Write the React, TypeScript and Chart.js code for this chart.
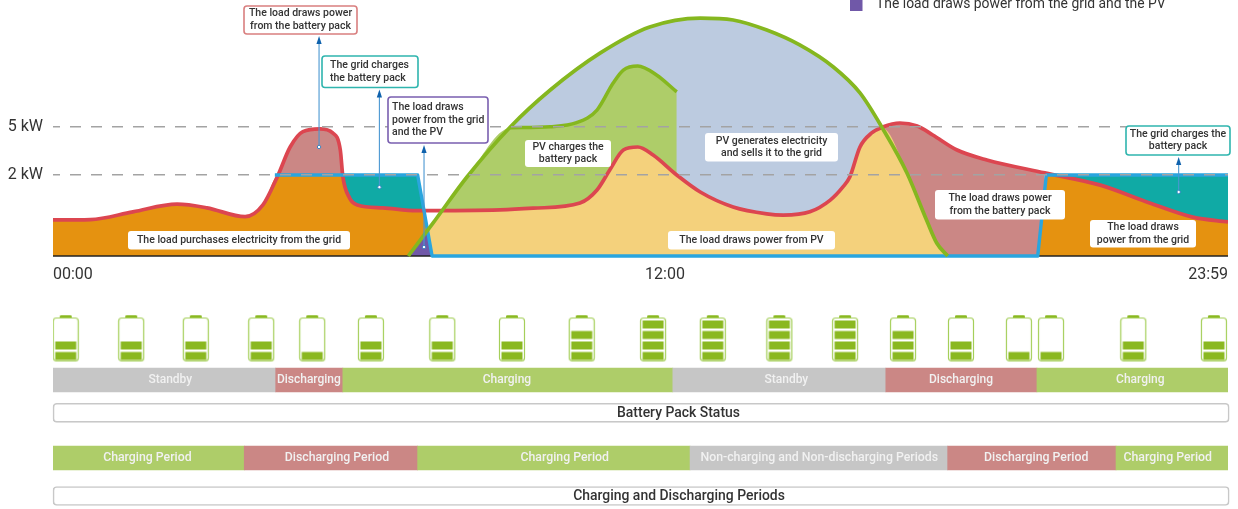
import React, { useEffect, useRef } from "react";
import { Chart, LinearScale, registerables } from "chart.js";

// ---------- Data (x = minutes after midnight, y = kW) ----------
const loadTime = [0, 44, 94, 146, 181, 226, 247, 264, 279, 294, 314, 329, 338, 341, 349, 358, 388, 428, 526, 565, 620, 640, 655, 671, 688, 706, 735, 765, 807, 850, 871, 905, 931, 947, 956, 969, 984, 998, 1020, 1042, 1062, 1093, 1131, 1205, 1276, 1339, 1394, 1439];
const loadKw = [0.89, 0.9, 1.09, 1.28, 1.19, 0.97, 1.26, 1.96, 3.75, 4.71, 4.88, 4.63, 3.56, 1.96, 1.43, 1.26, 1.19, 1.12, 1.14, 1.18, 1.31, 1.63, 2.31, 3.56, 3.75, 3.25, 2.0, 1.58, 1.21, 1.04, 1.01, 1.09, 1.38, 1.7, 1.95, 3.75, 4.63, 5.0, 5.25, 5.06, 4.5, 3.56, 2.94, 2.13, 1.75, 1.31, 0.96, 0.84];
const pvTime = [418, 447, 487, 538, 585, 644, 702, 765, 807, 850, 892, 935, 969, 998, 1029, 1054, 1067, 1081];
const pvKw = [0, 0.81, 1.95, 5.0, 7.31, 9.63, 11.25, 11.81, 11.69, 11.06, 10.13, 8.75, 7.13, 4.9, 2.13, 0.89, 0.32, 0];
const pvChargeTime = [538, 585, 616, 640, 659, 671, 688, 710, 735];
const pvChargeKw = [4.96, 5.02, 5.27, 6.06, 7.75, 8.56, 8.81, 8.25, 7.19];
const gridLimitTime = [261, 429, 446, 1196, 1207, 1439];
const gridLimitKw = [2, 2, 0, 0, 2, 2];

const batteryTime = [15, 92, 168, 245, 305, 374, 458, 540, 622, 706, 781, 866, 950, 1024, 1098, 1172, 1213, 1318, 1421];
const batteryLevel = [2, 2, 2, 2, 1, 2, 2, 2, 3, 4, 4, 4, 4, 3, 2, 1, 1, 2, 2];

const statusNames = ["Standby", "Discharging", "Charging", "Standby", "Discharging", "Charging"];
const statusEdges = [0, 262, 341, 730, 1002, 1195, 1439];
const statusLabelAt = [138, 301, 534, 875, 1098, 1327];
const periodNames = ["Charging Period", "Discharging Period", "Charging Period", "Non-charging and Non-discharging Periods", "Discharging Period", "Charging Period"];
const periodEdges = [0, 225, 429, 752, 1081, 1296, 1439];
const periodLabelAt = [111, 334, 602, 917, 1194, 1362];

const timeTicks = [0, 720, 1439];
const powerTicks = [2, 5];

// ---------- Styles ----------
const FONT = "Roboto, 'Noto Sans', sans-serif";
const C = {
  orange: "#e59210", pink: "#cb8785", teal: "#10aaa5", yellow: "#f4d17c", sky: "#bccbe0",
  lime: "#aecd69", purple: "#7058a8", red: "#dc4650", pv: "#85b71f", limit: "#2aa5de",
  grey: "#c6c6c6", text: "#333333",
};
const statusColor: Record<string, string> = {
  Standby: C.grey, Discharging: C.pink, Charging: C.lime,
  "Charging Period": C.lime, "Discharging Period": C.pink,
  "Non-charging and Non-discharging Periods": C.grey,
};
const ROW = { battery: 338.5, status: 380, statusTitle: 412.8, period: 458, periodTitle: 496 };

// Piecewise linear axis: the schematic's kW and time axes are not to scale.
class PiecewiseScale extends LinearScale {
  static id = "piecewise";
  static defaults = {};
  getPixelForValue(value: number) {
    const knots: number[][] = (this.options as any).knots;
    let i = 0;
    while (i < knots.length - 2 && value > knots[i + 1][0]) i++;
    const [v0, d0] = knots[i];
    const [v1, d1] = knots[i + 1];
    return this.getPixelForDecimal(d0 + ((value - v0) / (v1 - v0)) * (d1 - d0));
  }
  // Tick labels may overhang the plot: they must not shrink it.
  getPadding() {
    return { left: 0, right: 0, top: 0, bottom: 0 };
  }
}

const zip = (t: number[], v: number[]) => t.map((x, i) => ({ x, y: v[i] }));
const load = zip(loadTime, loadKw);
const pv = zip(pvTime, pvKw);
const pvCharge = zip(pvChargeTime, pvChargeKw);
const between = (s: { x: number; y: number }[], a: number, b: number) => s.filter((p) => p.x >= a && p.x <= b);

function region(data: any[], color: string, smooth = true) {
  return {
    type: "line", data, xAxisID: "x", yAxisID: "y", pointRadius: 0, borderWidth: 0, borderColor: "transparent",
    backgroundColor: color, fill: { target: "origin" },
    ...(smooth ? { cubicInterpolationMode: "monotone" } : { tension: 0 }),
  };
}
function stroke(data: any[], color: string, width: number, smooth = true) {
  return {
    type: "line", data, xAxisID: "x", yAxisID: "y", pointRadius: 0, borderWidth: width, borderColor: color, fill: false,
    borderCapStyle: "butt", borderJoinStyle: "round",
    ...(smooth ? { cubicInterpolationMode: "monotone" } : { tension: 0 }),
  };
}
function laneBars(names: string[], edges: number[], row: number) {
  return {
    type: "bar", indexAxis: "y", xAxisID: "x", yAxisID: "lanes", grouped: false, barThickness: 24, borderWidth: 0,
    data: names.map((_, i) => ({ x: [edges[i], edges[i + 1]], y: row })),
    backgroundColor: names.map((n) => statusColor[n]),
  };
}
function titleBar(row: number) {
  return {
    type: "bar", indexAxis: "y", xAxisID: "x", yAxisID: "lanes", grouped: false, barThickness: 19, clip: false,
    data: [{ x: [0, 1440.5], y: row }], backgroundColor: "#ffffff", borderColor: "#c8c8c8", borderWidth: 1.6, borderRadius: 4, borderSkipped: false,
  };
}

function batteryIcon(level: number) {
  const c = document.createElement("canvas");
  c.width = 28; c.height = 48;
  const g = c.getContext("2d")!;
  g.fillStyle = "#8ab820";
  g.beginPath(); g.roundRect(8, 0.5, 12, 3.5, 1.5); g.fill();
  g.strokeStyle = "#a5cf5a"; g.lineWidth = 1.2; g.fillStyle = "#fff";
  g.beginPath(); g.roundRect(1.5, 3.5, 25, 43, 3); g.fill(); g.stroke();
  g.fillStyle = "#8ab820";
  for (let i = 0; i < level; i++) g.fillRect(3.5, 37.5 - i * 10.5, 21, 8);
  return c;
}

const calloutList = [
  { lines: ["The load draws power", "from the battery pack"], box: [244, 6, 113, 28], color: "#d97f7f", t: 313, kw: 3.75, align: "center" },
  { lines: ["The grid charges", "the battery pack"], box: [322, 56, 96, 31.5], color: "#2fb5ae", t: 384, kw: 1.7, align: "left" },
  { lines: ["The load draws", "power from the grid", "and the PV"], box: [388, 97, 100, 46], color: "#7a5fb0", t: 436.5, kw: 0.22, align: "left" },
  { lines: ["The grid charges the", "battery pack"], box: [1126, 126, 104, 29], color: "#2fb5ae", t: 1376, kw: 1.58, align: "center" },
];
const noteList = [
  { lines: ["The load purchases electricity from the grid"], box: [128, 231, 222, 18.5] },
  { lines: ["PV charges the", "battery pack"], box: [525, 140, 86, 27] },
  { lines: ["PV generates electricity", "and sells it to the grid"], box: [705, 133, 133, 28.5] },
  { lines: ["The load draws power from PV"], box: [668, 231, 167, 18.5] },
  { lines: ["The load draws power", "from the battery pack"], box: [935, 190, 130, 29.5] },
  { lines: ["The load draws", "power from the grid"], box: [1090, 220, 106, 27.5] },
];

const overlay = {
  id: "overlay",
  afterDraw(chart: any) {
    const g: CanvasRenderingContext2D = chart.ctx;
    const x = chart.scales.x, y = chart.scales.y, lanes = chart.scales.lanes;
    g.save();
    const text = (lines: string[], cx: number, cy: number, lh: number, align: CanvasTextAlign = "center") => {
      g.textAlign = align; g.textBaseline = "middle";
      lines.forEach((l, i) => g.fillText(l, cx, cy + (i - (lines.length - 1) / 2) * lh));
    };
    // Arrows and their boxes
    g.font = `500 10.5px ${FONT}`;
    calloutList.forEach((c) => {
      const [bx, by, bw, bh] = c.box;
      const ax = x.getPixelForValue(c.t), ay = y.getPixelForValue(c.kw);
      g.strokeStyle = "#4a97d2"; g.lineWidth = 1.1;
      g.beginPath(); g.moveTo(ax, ay); g.lineTo(ax, by + bh + 6); g.stroke();
      g.fillStyle = "#0f62ad";
      g.beginPath(); g.moveTo(ax, by + bh + 2); g.lineTo(ax - 2.6, by + bh + 10); g.lineTo(ax + 2.6, by + bh + 10); g.closePath(); g.fill();
      g.fillStyle = "#fff"; g.strokeStyle = "#2f7fc0"; g.lineWidth = 0.9;
      g.beginPath(); g.arc(ax, ay, 1.7, 0, Math.PI * 2); g.fill(); g.stroke();
      g.fillStyle = "#fff"; g.strokeStyle = c.color; g.lineWidth = 1.6;
      g.beginPath(); g.roundRect(bx, by, bw, bh, 3); g.fill(); g.stroke();
      g.fillStyle = C.text;
      if (c.align === "left") text(c.lines, bx + 4 + (c.lines.length === 2 ? 4 : 0), by + bh / 2, 12.6, "left");
      else text(c.lines, bx + bw / 2, by + bh / 2, 12.6);
    });
    noteList.forEach((n) => {
      const [bx, by, bw, bh] = n.box;
      g.fillStyle = "#fff";
      g.beginPath(); g.roundRect(bx, by, bw, bh, 3); g.fill();
      g.fillStyle = C.text;
      text(n.lines, bx + bw / 2, by + bh / 2, 12.6);
    });
    // Lane labels
    g.fillStyle = "#f1f1f1";
    g.font = `500 12px ${FONT}`;
    statusNames.forEach((n, i) => text([n], x.getPixelForValue(statusLabelAt[i]), lanes.getPixelForValue(ROW.status), 12));
    g.font = `500 12.3px ${FONT}`;
    periodNames.forEach((n, i) => text([n], x.getPixelForValue(periodLabelAt[i]), lanes.getPixelForValue(ROW.period) - 0.5, 12));
    g.font = `500 13.95px ${FONT}`;
    g.fillStyle = C.text;
    text(["Battery Pack Status"], 678.5, lanes.getPixelForValue(ROW.statusTitle) + 1, 13);
    text(["Charging and Discharging Periods"], 679, lanes.getPixelForValue(ROW.periodTitle) + 1, 13);
    // Legend entry cut off by the top edge
    g.fillStyle = C.purple;
    g.fillRect(850, -2, 12.5, 13);
    g.fillStyle = C.text;
    g.font = `400 13.9px ${FONT}`;
    g.textAlign = "left";
    g.fillText("The load draws power from the grid and the PV", 876, 4.5);
    g.restore();
  },
};

export default function App() {
  const ref = useRef<HTMLCanvasElement>(null);
  useEffect(() => {
    Chart.register(...registerables, PiecewiseScale as any);
    const H = 509;
    const yFrac = (py: number) => (H - py) / H;
    const layers: any[] = [
      region(between(load, 264, 341), C.pink),
      region(between(load, 984, 1205), C.pink),
      region([{ x: 339, y: 2 }, { x: 429, y: 2 }, { x: 446, y: 0 }], C.teal, false),
      region([{ x: 1207, y: 2 }, { x: 1439, y: 2 }], C.teal, false),
      region(pv, C.sky),
      region([...between(pv, 418, 537), ...pvCharge], C.lime),
      region([...between(pv, 418, 447), { x: 457, y: 1.14 }, ...between(load, 458, 984), ...between(pv, 998, 1081)], C.yellow),
      region([...between(load, 0, 264), { x: 339, y: 2 }, ...between(load, 341, 428), { x: 437, y: 1.13 }, { x: 440, y: 0.62 }], C.orange),
      region([{ x: 1196, y: 0 }, { x: 1201, y: 1 }, { x: 1207, y: 2 }, ...between(load, 1208, 1439)], C.orange),
      region([{ x: 418, y: 0 }, { x: 440, y: 0.62 }, { x: 446, y: 0 }], C.purple, false),
      stroke([{ x: 0, y: 0 }, { x: 1439, y: 0 }], "#222222", 1.6, false),
      stroke(load, C.red, 3.7),
      stroke(zip(gridLimitTime, gridLimitKw), C.limit, 3.4, false),
      stroke(pv, C.pv, 3.7),
      stroke(pvCharge, C.pv, 3.5),
      {
        type: "line", showLine: false, xAxisID: "x", yAxisID: "lanes",
        data: batteryTime.map((x) => ({ x, y: ROW.battery })),
        pointStyle: batteryLevel.map(batteryIcon), pointRadius: 14,
      },
      laneBars(statusNames, statusEdges, ROW.status),
      titleBar(ROW.statusTitle),
      laneBars(periodNames, periodEdges, ROW.period),
      titleBar(ROW.periodTitle),
    ];
    layers.forEach((d, i) => (d.order = layers.length - i));
    const chart = new Chart(ref.current!, {
      type: "line",
      data: { datasets: layers },
      plugins: [overlay],
      options: {
        animation: false,
        responsive: false,
        devicePixelRatio: 1,
        events: [],
        layout: { autoPadding: false, padding: { left: 0, right: 10, top: 0, bottom: 0 } },
        plugins: { legend: { display: false }, tooltip: { enabled: false } },
        scales: {
          x: {
            type: "piecewise", axis: "x", min: 0, max: 1439, position: { y: 0 },
            knots: [[0, 0], [720, 612 / 1175], [1439, 1]],
            afterBuildTicks: (s: any) => { s.ticks = timeTicks.map((value) => ({ value })); },
            grid: { display: false, drawTicks: false }, border: { display: false },
            ticks: {
              align: "inner", autoSkip: false, maxRotation: 0, padding: 9, color: C.text,
              font: { family: FONT, size: 16 },
              callback: (v: number) => v === 0 ? "00:00" : v === 720 ? "12:00" : "23:59",
            },
          },
          y: {
            type: "piecewise", axis: "y", position: "left", min: 0, max: 13,
            knots: [[0, yFrac(256)], [2, yFrac(175)], [5, yFrac(127)], [13, yFrac(127 - 128)]],
            afterBuildTicks: (s: any) => { s.ticks = powerTicks.map((value) => ({ value })); },
            afterFit: (s: any) => { s.width = 53; },
            grid: { z: 1, color: "#a3a3a3", lineWidth: 1.5, drawTicks: false },
            border: { display: false, dash: [11, 10], dashOffset: 4 },
            ticks: {
              autoSkip: false, padding: 10, color: C.text, font: { family: FONT, size: 16 },
              callback: (v: number) => `${v} kW`,
            },
          },
          lanes: { type: "linear", axis: "y", display: false, reverse: true, min: 0, max: H, offset: false },
        },
      } as any,
    } as any);
    return () => chart.destroy();
  }, []);
  return (
    <canvas
      ref={ref}
      width={1238}
      height={509}
      style={{ position: "absolute", left: 0, top: 0, display: "block" }}
    />
  );
}
